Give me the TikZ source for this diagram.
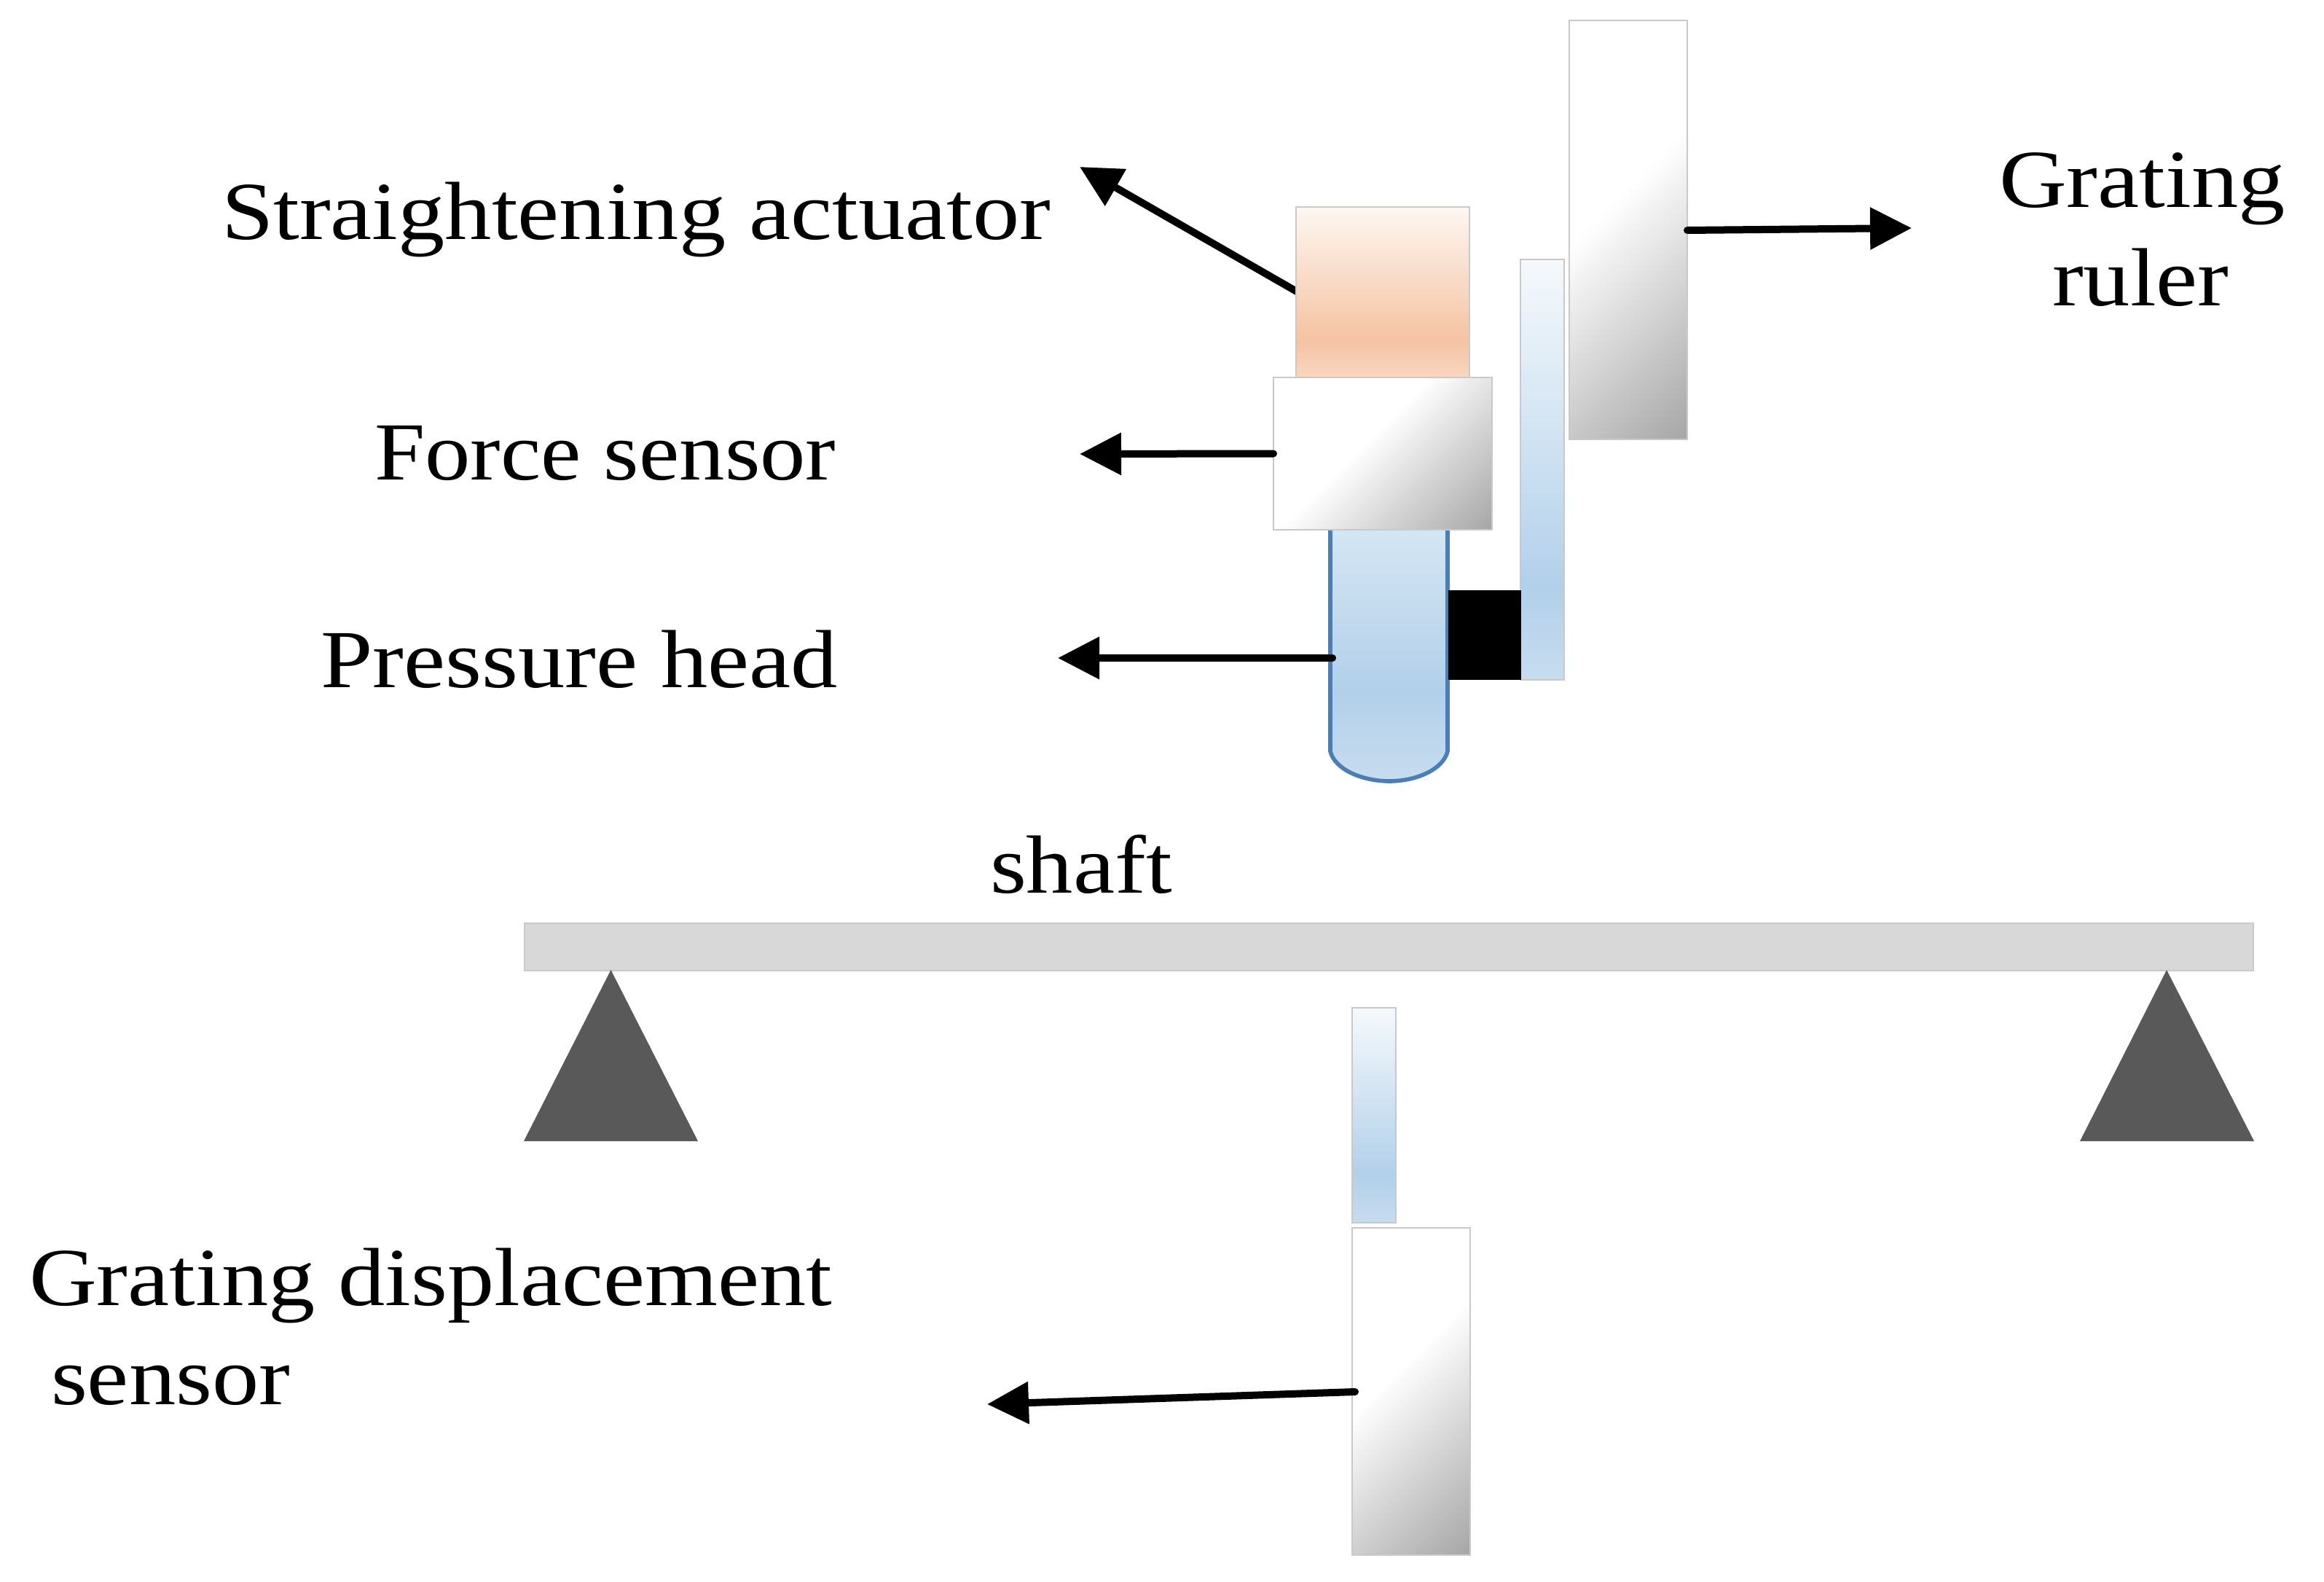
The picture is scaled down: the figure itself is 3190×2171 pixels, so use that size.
\documentclass[tikz,border=0pt]{standalone}
\usepackage{fontspec}
\usepackage{graphicx}
\setmainfont{Liberation Serif}[FakeStretch=1.135]
\usetikzlibrary{arrows.meta}
\definecolor{edgegray}{HTML}{C9C9C9}
\definecolor{gradgray}{HTML}{A6A6A6}
\definecolor{blueA}{HTML}{F5F9FC}
\definecolor{blueB}{HTML}{B2D0EA}
\definecolor{blueC}{HTML}{C7DCEF}
\definecolor{orangeA}{HTML}{FEF7F2}
\definecolor{orangeB}{HTML}{F4C3A2}
\definecolor{orangeC}{HTML}{F9D7C2}
\definecolor{headline}{HTML}{4A7EB4}
\definecolor{shaftgray}{HTML}{D8D8D8}
\definecolor{triangray}{HTML}{595959}
\pgfdeclareverticalshading{bluegrad}{100bp}{color(0bp)=(blueC); color(25bp)=(blueC); color(36bp)=(blueB); color(75bp)=(blueA); color(100bp)=(blueA)}
\pgfdeclareverticalshading{orangegrad}{100bp}{color(0bp)=(orangeC); color(25bp)=(orangeC); color(36bp)=(orangeB); color(75bp)=(orangeA); color(100bp)=(orangeA)}
\pgfdeclareverticalshading{graygrad}{100bp}{color(0bp)=(gradgray); color(32.3bp)=(gradgray); color(52.8bp)=(white); color(100bp)=(white)}
\newcommand{\pxbox}[6]{%
  \pgfmathsetlengthmacro{\pxw}{(#5-#3)*0.25pt}%
  \pgfmathsetlengthmacro{\pxh}{(#6-#4)*0.25pt}%
  \node[#2,minimum width=\pxw,minimum height=\pxh] (#1) at ({(#3+#5)/2},{(#4+#6)/2}) {};}
% grey part: a true 45 degree gradient, clipped to the box, then the outlined node
\newcommand{\graypart}[5]{%
  \begin{scope}
    \clip (#2,#3) rectangle (#4,#5);
    \pgfmathsetmacro{\pxs}{(#4-#2+#5-#3)/2}%
    \path[shade,shading=graygrad,shading angle=45]
      ({(#2+#4)/2-\pxs},{(#3+#5)/2-\pxs}) rectangle ({(#2+#4)/2+\pxs},{(#3+#5)/2+\pxs});
  \end{scope}
  \pxbox{#1}{partbox}{#2}{#3}{#4}{#5}}
\tikzset{
  x=0.25pt,y=-0.25pt,
  partbox/.style={draw=edgegray,line width=0.6pt,inner sep=0pt,outer sep=0pt,rectangle},
  bluebox/.style={partbox,shade,shading=bluegrad},
  orangebox/.style={partbox,shade,shading=orangegrad},
  shaftbox/.style={partbox,fill=shaftgray},
  blackbox/.style={inner sep=0pt,outer sep=0pt,rectangle,fill=black},
  pointer/.style={line width=2.5pt,line cap=round,-{Triangle[length=14.25pt,width=14pt]}},
  lbl/.style={anchor=base west,inner sep=0pt,outer sep=0pt,font=\fontsize{28.3}{30}\selectfont},
  support/.style={fill=triangray}
}
\begin{document}
\begin{tikzpicture}
\useasboundingbox (0,0) rectangle (3190,2171);
\fill[white] (0,0) rectangle (3190,2171);
% connector ends
\coordinate (tipActuator) at (1482,229);
\coordinate (tailActuator) at (1785,403);
\coordinate (tipForce) at (1482,623);
\coordinate (tipHead) at (1452,903);
\coordinate (tailHead) at (1829,903);
\coordinate (tipRuler) at (2624,313);
\coordinate (tailRuler) at (2316,316);
\coordinate (tipSensor) at (1355,1927);
\coordinate (tailSensor) at (1860,1910);
\draw[pointer] (tailActuator) -- (tipActuator);
% parts
\pxbox{actuator}{orangebox}{1779}{284}{2017}{518}
\path[shade,shading=bluegrad]
  (1826,518) -- (1826,1031) .. controls (1832,1056) and (1870,1072) .. (1907,1072)
  .. controls (1944,1072) and (1981,1056) .. (1987,1031) -- (1987,518) -- cycle;
\draw[draw=headline,line width=1.4pt]
  (1826,530) -- (1826,1031) .. controls (1832,1056) and (1870,1072) .. (1907,1072)
  .. controls (1944,1072) and (1981,1056) .. (1987,1031) -- (1987,530);
\graypart{force}{1748}{518}{2048}{727}
\pxbox{guide}{bluebox}{2087}{356}{2147}{933}
\pxbox{block}{blackbox}{1988}{810}{2088}{933}
\graypart{ruler}{2154}{28}{2316}{603}
\pxbox{shaft}{shaftbox}{720}{1267}{3093}{1332}
\path[support] (838.5,1331) -- (958,1566) -- (719,1566) -- cycle;
\path[support] (2974,1331) -- (3094,1566) -- (2855,1566) -- cycle;
\pxbox{probe}{bluebox}{1856}{1383}{1916}{1678}
\graypart{sensor}{1856}{1685}{2018}{2134}
% labels
\node[lbl] (lActuator) at (304,329) {Straightening actuator};
\node[lbl] (lForce) at (514,658) {\scalebox{0.97}[1]{Force sensor}};
\node[lbl] (lHead) at (440,943) {Pressure head};
\node[lbl] (lShaft) at (1359,1225) {shaft};
\node[lbl] (lGrating) at (2744,285) {Grating};
\node[lbl] (lRuler) at (2817,420) {ruler};
\node[lbl] (lDisp) at (40,1791) {Grating displacement};
\node[lbl] (lSensor) at (70,1927) {sensor};
% connectors
\draw[pointer] (force.west) -- (tipForce);
\draw[pointer] (tailHead) -- (tipHead);
\draw[pointer] (tailRuler) -- (tipRuler);
\draw[pointer] (tailSensor) -- (tipSensor);
\end{tikzpicture}
\end{document}
